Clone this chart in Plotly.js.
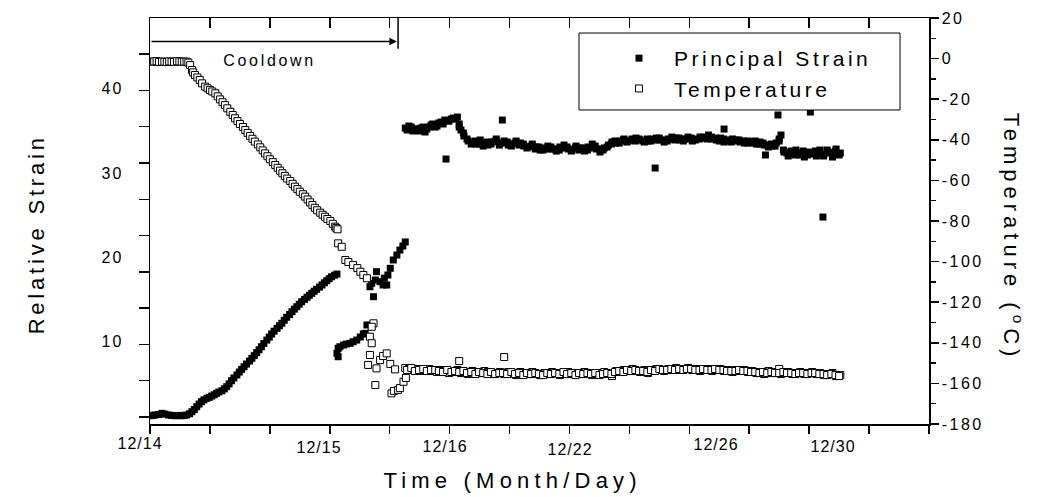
<!DOCTYPE html>
<html><head><meta charset="utf-8">
<script src="https://cdn.plot.ly/plotly-3.0.1.min.js"></script>
<style>
body{margin:0;background:#fff}
#chart{width:1039px;height:497px}
.legendtext{letter-spacing:3.5px}
.ytick text{letter-spacing:2px}
.y2tick text{letter-spacing:2.5px}
.annotation .annotation-text{letter-spacing:1px}
.annotation[data-index="1"] .annotation-text{letter-spacing:2.7px}
.annotation[data-index="2"] .annotation-text{letter-spacing:3.8px}
.annotation[data-index="3"] .annotation-text{letter-spacing:5.2px}
.annotation[data-index="4"] .annotation-text{letter-spacing:5px}
</style>
</head><body><div id="chart"></div>
<script>
// ---- time axis: one unit per tick mark (date labels are non-uniform, as in the original)
const dateLabels = ['12/14','12/15','12/16','12/22','12/26','12/30'];
const dateLabelAt = [-0.17, 2.82, 4.92, 7.01, 9.45, 11.39];
const strainLabels = [10, 20, 30, 40];
const tempTicks = [-180,-160,-140,-120,-100,-80,-60,-40,-20,0,20];
const cooldownEnd = 4.14;

// ---- Principal strain (relative strain units)
const strainCoolX = [0.00,0.04,0.08,0.14,0.20,0.25,0.31,0.36,0.42,0.47,0.53,0.57,0.61,0.66,0.70,0.74,0.78,0.82,0.86,0.90,0.95,0.99,1.03,1.07,1.11,1.15,1.20,1.24,1.28,1.32,1.36,1.40,1.45,1.49,1.53,1.57,1.61,1.66,1.70,1.74,1.78,1.82,1.86,1.90,1.95,1.99,2.03,2.07,2.12,2.16,2.20,2.24,2.28,2.33,2.37,2.41,2.45,2.49,2.53,2.58,2.62,2.66,2.70,2.74,2.78,2.83,2.87,2.91,2.95,2.99,3.03,3.08,3.12];
const strainCoolY = [1.16,1.20,1.25,1.30,1.45,1.35,1.25,1.20,1.16,1.20,1.16,1.20,1.25,1.40,1.64,1.90,2.23,2.55,2.83,3.05,3.23,3.35,3.50,3.65,3.82,3.98,4.13,4.35,4.61,4.95,5.32,5.65,6.00,6.35,6.67,6.98,7.30,7.65,7.98,8.30,8.65,9.00,9.36,9.75,10.15,10.50,10.87,11.20,11.54,11.85,12.14,12.50,12.85,13.18,13.52,13.82,14.11,14.40,14.70,14.98,15.23,15.47,15.70,15.95,16.18,16.44,16.69,16.95,17.20,17.44,17.67,17.85,17.99];
const strainTransX = [3.12,3.14,3.14,3.17,3.23,3.28,3.34,3.39,3.45,3.51,3.56,3.59,3.62,3.67,3.70,3.73,3.76,3.78,3.84,3.89,3.91,3.95,3.97,4.01,4.06,4.12,4.17,4.22,4.26];
const strainTransY = [8.57,9.17,8.17,9.36,9.56,9.68,9.76,9.95,10.15,10.51,10.87,10.95,11.94,16.48,16.89,15.30,17.28,18.27,17.08,16.69,17.50,16.69,17.87,18.67,19.66,20.25,20.84,21.32,21.80];

// ---- steady period: two interleaved sets of sample times
const xFlat = [4.26,4.32,4.39,4.46,4.52,4.59,4.66,4.72,4.79,4.86,4.92,4.99,5.06,5.13,
5.16,5.19,5.24,5.31,5.38,5.44,5.51,5.58,5.64,5.71,5.78,5.84,
5.91,5.98,6.04,6.11,6.18,6.24,6.31,6.38,6.44,6.51,6.58,6.64,6.71,6.78,6.84,6.91,6.98,7.04,7.11,7.18,7.25,7.31,7.38,7.45,7.51,7.58,7.65,7.71,7.78,7.85,7.91,7.98,8.05,8.11,8.18,8.25,8.31,8.38,8.45,8.51,8.58,8.65,8.71,8.78,8.85,8.91,8.98,9.05,9.11,9.18,9.25,9.32,9.38,9.45,9.52,9.58,9.65,9.72,9.78,9.85,9.92,9.98,10.05,10.12,10.18,10.25,10.32,10.38,10.45,
10.50,10.53,
10.58,10.65,10.72,10.78,10.85,10.92,10.98,11.05,11.12,11.18,11.25,11.32,11.39,11.45,11.52];
const xFlatB = [4.29,4.36,4.42,4.49,4.56,4.62,4.69,4.76,4.82,4.89,4.96,5.03,5.09,5.16,5.23,5.29,5.36,5.43,5.49,5.56,5.63,5.69,5.76,5.83,5.89,5.96,6.03,6.09,6.16,6.23,6.29,6.36,6.43,6.49,6.56,6.63,6.69,6.76,6.83,6.90,6.96,7.03,7.10,7.16,7.23,7.30,7.36,7.43,7.50,7.56,7.63,7.70,7.76,7.83,7.90,7.96,8.03,8.10,8.16,8.23,8.30,8.36,8.43,8.50,8.56,8.63,8.70,8.76,8.83,8.90,8.96,9.03,9.10,9.17,9.23,9.30,9.37,9.43,9.50,9.57,9.63,9.70,9.77,9.83,9.90,9.97,10.03,10.10,10.17,10.23,10.30,10.37,10.43,10.50,10.57,10.63,10.70,10.77,10.83,10.90,10.97,11.04,11.10,11.17,11.24,11.30,11.37,11.44,11.50];
const strainFlat = [35.33,35.57,34.98,35.21,35.33,34.86,35.45,35.81,35.57,36.05,36.28,36.16,36.52,36.64,
35.81,35.10,34.38,33.79,33.55,33.43,33.91,33.55,33.31,33.67,34.03,33.55,
33.79,33.31,33.43,33.79,33.55,33.19,33.08,33.43,33.08,32.72,32.96,33.19,32.84,32.60,33.08,33.31,32.84,32.72,33.19,32.96,32.60,33.08,33.43,32.84,32.48,32.96,33.31,33.67,33.55,33.79,34.03,33.79,34.03,34.14,33.91,33.67,33.79,34.03,34.14,33.91,33.67,34.03,34.26,34.14,33.91,34.03,34.26,33.79,34.03,34.26,34.14,34.50,34.03,33.91,34.14,33.67,33.79,34.03,33.91,33.67,33.55,33.79,33.55,33.43,33.67,33.31,33.08,33.19,33.55,
34.03,34.50,
32.48,32.01,32.24,32.72,32.13,31.89,32.48,32.36,32.01,32.72,32.24,32.48,31.89,32.84,32.36];
const strainFlatB = [35.10,35.45,35.21,34.98,35.45,35.21,35.69,35.45,35.93,35.81,36.16,36.40,36.40,35.45,34.74,34.03,33.43,33.79,33.43,33.19,33.67,33.43,33.79,33.31,33.55,33.67,33.19,33.55,33.31,33.43,32.96,33.19,32.84,33.08,32.72,32.84,33.08,32.84,32.72,32.96,33.08,32.60,32.96,32.72,32.96,32.72,32.96,33.19,32.84,32.72,33.08,33.43,33.79,33.55,33.91,33.67,33.91,33.79,34.03,33.79,34.03,33.79,33.91,34.14,33.91,33.79,34.03,33.91,34.14,33.79,34.03,34.14,33.91,34.03,34.26,34.03,34.26,34.14,33.79,34.03,33.91,33.67,33.79,33.91,33.79,33.55,33.67,33.79,33.43,33.55,33.31,33.43,33.19,33.79,32.72,32.36,32.60,32.13,32.36,32.60,32.13,32.24,32.60,32.24,32.01,32.72,32.36,32.60,32.13];
const strainOutX = [4.94,5.88,8.43,9.58,10.27,10.48,11.02,11.23];
const strainOutY = [31.65,36.28,30.58,35.21,32.13,36.88,37.23,24.76];

// ---- Temperature (deg C)
const tempCoolX = [0.03,0.07,0.11,0.15,0.20,0.24,0.28,0.32,0.36,0.40,0.45,0.49,0.53,0.57,0.61,0.64,0.67,0.70,0.72,0.75,0.79,0.83,0.87,0.92,0.96,1.00,1.04,1.09,1.13,1.17,1.21,1.25,1.29,1.34,1.38,1.42,1.46,1.50,1.55,1.59,1.63,1.67,1.71,1.75,1.80,1.84,1.88,1.92,1.96,2.00,2.05,2.09,2.13,2.17,2.21,2.25,2.29,2.34,2.38,2.42,2.46,2.50,2.55,2.59,2.63,2.67,2.71,2.75,2.79,2.84,2.88,2.92,2.96,3.01,3.05,3.09,3.11,3.13];
const tempCoolY = [-1.5,-1.4,-1.3,-1.6,-1.5,-1.5,-1.7,-1.4,-1.5,-1.6,-1.3,-1.4,-1.5,-1.5,-1.5,-2.0,-3.2,-5.6,-6.8,-8.1,-9.3,-10.5,-12.2,-13.8,-14.6,-15.5,-16.2,-17.1,-18.6,-20.1,-21.5,-22.9,-24.5,-26.2,-27.8,-29.4,-30.8,-32.2,-33.7,-35.2,-36.6,-38.1,-39.5,-40.9,-42.3,-43.7,-45.2,-46.7,-48.1,-49.6,-51.0,-52.4,-53.8,-55.2,-56.5,-57.8,-59.1,-60.3,-61.7,-63.1,-64.3,-65.6,-66.8,-68.0,-69.4,-70.8,-72.1,-73.5,-74.7,-75.9,-76.9,-77.9,-79.0,-80.0,-81.4,-82.8,-83.5,-84.1];
const tempTransX = [3.14,3.20,3.26,3.31,3.39,3.46,3.51,3.56,3.62,3.73,3.70,3.67,3.70,3.67,3.64,3.76,3.78,3.84,3.89,3.95,4.01,4.09,4.03,4.07,4.14,4.17,4.23,4.27];
const tempTransY = [-91.0,-92.7,-99.2,-100.2,-101.7,-103.2,-105.0,-106.6,-108.2,-130.4,-132.1,-137.0,-140.2,-146.0,-150.9,-160.8,-152.6,-148.5,-146.5,-145.2,-150.4,-153.1,-164.9,-163.7,-163.2,-162.3,-159.2,-157.3];
const tempFlat = [-152.4,-152.9,-153.4,-152.9,-153.9,-153.4,-152.9,-153.9,-154.4,-153.4,-153.9,-154.9,-154.4,-153.4,
-153.9,-154.9,-154.4,-155.4,-153.9,-154.4,-154.9,-153.9,-154.4,-155.4,-154.9,-154.4,
-155.4,-154.4,-154.9,-155.9,-154.4,-154.9,-155.4,-154.4,-155.4,-155.9,-154.9,-155.4,-154.4,-154.9,-155.9,-154.9,-154.4,-155.4,-154.9,-155.4,-154.4,-154.9,-155.9,-155.4,-154.9,-154.4,-155.4,-156.4,-153.9,-154.4,-153.4,-153.9,-152.9,-153.9,-154.4,-153.4,-154.9,-153.9,-152.9,-153.4,-153.9,-152.9,-153.4,-152.4,-153.4,-152.9,-152.4,-153.4,-152.9,-153.9,-153.4,-152.9,-153.9,-153.4,-152.9,-153.9,-153.4,-154.4,-153.4,-153.9,-153.4,-154.4,-153.9,-154.9,-154.4,-155.4,-153.9,-154.9,-154.4,
-152.9,-155.4,
-154.9,-154.4,-155.4,-154.9,-154.4,-155.4,-154.9,-154.4,-155.4,-154.9,-155.9,-155.4,-154.9,-156.4,-155.9];
const tempFlatB = [-153.4,-152.4,-153.9,-153.4,-152.9,-153.9,-153.4,-153.4,-153.9,-154.4,-153.4,-154.4,-153.9,-154.4,-153.9,-154.9,-154.4,-155.4,-154.4,-154.9,-155.4,-154.4,-155.4,-154.9,-154.9,-155.4,-154.4,-155.4,-154.9,-155.9,-154.9,-155.4,-154.9,-155.4,-155.9,-154.9,-155.4,-154.9,-155.4,-154.4,-155.4,-154.9,-155.9,-154.9,-155.4,-154.9,-155.4,-154.9,-155.9,-155.4,-154.9,-155.4,-154.4,-153.9,-154.4,-153.4,-153.9,-153.4,-153.9,-153.9,-154.4,-153.4,-153.9,-152.9,-153.4,-153.4,-152.9,-153.4,-152.9,-153.4,-152.9,-152.9,-153.4,-153.4,-152.9,-153.4,-153.4,-152.9,-153.4,-153.4,-153.9,-153.9,-153.9,-153.4,-153.9,-153.9,-154.4,-154.4,-154.9,-154.4,-154.9,-154.4,-154.9,-154.9,-154.4,-154.9,-154.9,-155.4,-154.9,-154.9,-155.4,-154.9,-154.9,-155.4,-155.4,-155.9,-155.4,-155.9,-156.4];
const tempOutX = [5.16,5.91];
const tempOutY = [-149.0,-147.0];

const FONT = '"Liberation Sans", Arial, Helvetica, sans-serif';

const strainTrace = {
  type:'scatter', mode:'markers', name:'Principal Strain', legendgroup:'s',
  x:[...strainCoolX, ...strainTransX, ...xFlat, ...xFlatB, ...strainOutX],
  y:[...strainCoolY, ...strainTransY, ...strainFlat, ...strainFlatB, ...strainOutY],
  xaxis:'x', yaxis:'y',
  marker:{symbol:'square', size:7, color:'black', line:{width:0}}
};
const tempTrace = {
  type:'scatter', mode:'markers', name:'Temperature', legendgroup:'t',
  x:[...tempCoolX, ...tempTransX, ...xFlat, ...xFlatB, ...tempOutX],
  y:[...tempCoolY, ...tempTransY, ...tempFlat, ...tempFlatB, ...tempOutY],
  xaxis:'x2', yaxis:'y2',
  marker:{symbol:'square', size:7, color:'white', line:{width:1, color:'black'}}
};

const axLine = {showline:true, linecolor:'black', linewidth:1.5, showgrid:false, zeroline:false, tickcolor:'black', tickwidth:1.5};

const annotations = [
  {x:cooldownEnd-0.02, y:45.6, ax:0, ay:45.6, xref:'x', yref:'y', axref:'x', ayref:'y', text:'', showarrow:true, arrowhead:2, arrowsize:1, arrowwidth:1.5, arrowcolor:'black'},
  {x:2.0, y:43.3, xref:'x', yref:'y', text:'Cooldown', showarrow:false, font:{size:16}},
  {x:-0.145, y:0.466, xref:'paper', yref:'paper', xanchor:'center', yanchor:'middle', text:'Relative Strain', textangle:-90, showarrow:false, font:{size:22}},
  {x:0.465, y:-0.140, xref:'paper', yref:'paper', xanchor:'center', yanchor:'middle', text:'Time (Month/Day)', showarrow:false, font:{size:22}},
  {x:1.108, y:0.461, xref:'paper', yref:'paper', xanchor:'center', yanchor:'middle', text:'Temperature (<sup>o</sup>C)', textangle:90, showarrow:false, font:{size:22}}
];
const labelShift = [-19,-23,-22,-25,-20,-22];
dateLabels.forEach((t,i)=>annotations.push({x:dateLabelAt[i]/13, y:0, xref:'paper', yref:'paper', xanchor:'center', yanchor:'middle', yshift:labelShift[i], text:t, showarrow:false, font:{size:16}}));

const layout = {
  width:1039, height:497,
  margin:{l:150, r:110, t:18, b:73, pad:0},
  paper_bgcolor:'white', plot_bgcolor:'white',
  font:{family:FONT, color:'black', size:16},
  showlegend:true,
  legend:{x:0.5828, y:0.9507, xanchor:'left', yanchor:'top', bgcolor:'rgba(0,0,0,0)', borderwidth:0,
          font:{size:21}, itemwidth:60, tracegroupgap:0, traceorder:'grouped'},
  // top time axis (ticks pointing into the plot)
  xaxis:Object.assign({range:[0,13], side:'top', anchor:'y', tickmode:'linear', tick0:0, dtick:1, ticks:'inside', ticklen:10, showticklabels:false}, axLine),
  // bottom time axis (ticks pointing out)
  xaxis2:Object.assign({overlaying:'x', side:'bottom', anchor:'y2', range:[0,13], tickmode:'linear', tick0:0, dtick:1, ticks:'outside', ticklen:8, showticklabels:false}, axLine),
  yaxis:Object.assign({range:[0.18,48.4], tickmode:'array', tickvals:strainLabels, ticktext:strainLabels.map(String), ticks:'', ticklabelstandoff:22,
          minor:{tickmode:'linear', tick0:1.01, dtick:4.31, ticks:'outside', ticklen:10, tickcolor:'black', tickwidth:1.5}, tickfont:{size:16}}, axLine),
  yaxis2:Object.assign({overlaying:'y', side:'right', anchor:'x2', range:[-180,20], tickmode:'array', tickvals:tempTicks, ticktext:tempTicks.map(String), ticks:'outside', ticklen:8,
          minor:{tickmode:'linear', tick0:-180, dtick:10, ticks:'outside', ticklen:5, tickcolor:'black', tickwidth:1.5}, tickfont:{size:16}}, axLine),
  shapes:[
    {type:'line', xref:'x', yref:'paper', x0:cooldownEnd, x1:cooldownEnd, y0:0.924, y1:1, line:{color:'black', width:1.5}},
    {type:'rect', xref:'paper', yref:'paper', x0:0.5507, x1:0.9628, y0:0.7734, y1:0.963, fillcolor:'white', line:{color:'black', width:1}, layer:'above'}
  ],
  annotations:annotations
};

Plotly.newPlot('chart', [strainTrace, tempTrace], layout, {displayModeBar:false, staticPlot:true});
</script></body></html>
